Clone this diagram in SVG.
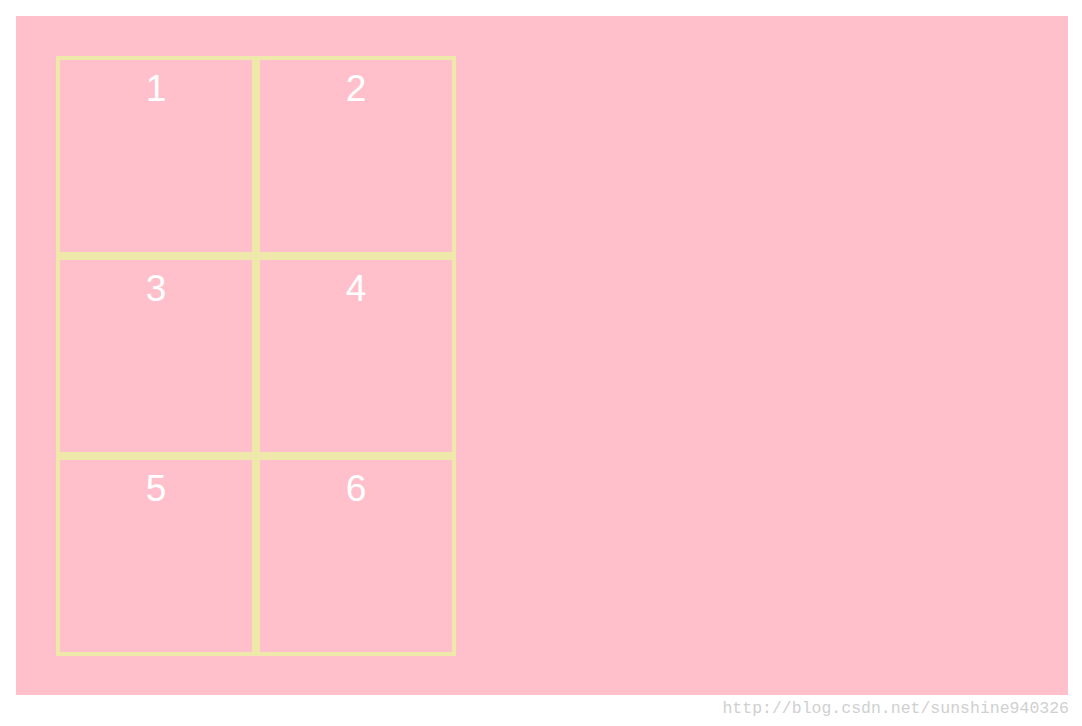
<svg xmlns="http://www.w3.org/2000/svg" width="1082" height="726" viewBox="0 0 1082 726">
<style>
.cell rect{fill:none;stroke:#EEE8AA;stroke-width:4}
.cell text{fill:#fff;font-family:"Liberation Sans",Arial,sans-serif;font-size:37px;text-anchor:middle}
.wm{fill:#d0d0d0;font-family:"Liberation Mono","DejaVu Sans Mono",monospace;font-size:16.5px;text-anchor:end}
</style>
<rect x="0" y="0" width="1082" height="726" fill="#fff"/>
<rect x="16" y="16" width="1052" height="679" fill="#FFC0CB"/>
<g id="cell1" class="cell"><rect x="58" y="58" width="196" height="196"/><text x="156" y="101">1</text></g>
<g id="cell2" class="cell"><rect x="258" y="58" width="196" height="196"/><text x="356" y="101">2</text></g>
<g id="cell3" class="cell"><rect x="58" y="258" width="196" height="196"/><text x="156" y="301">3</text></g>
<g id="cell4" class="cell"><rect x="258" y="258" width="196" height="196"/><text x="356" y="301">4</text></g>
<g id="cell5" class="cell"><rect x="58" y="458" width="196" height="196"/><text x="156" y="501">5</text></g>
<g id="cell6" class="cell"><rect x="258" y="458" width="196" height="196"/><text x="356" y="501">6</text></g>
<g id="connectors"></g>
<text class="wm" x="1069" y="713">http://blog.csdn.net/sunshine940326</text>
</svg>
